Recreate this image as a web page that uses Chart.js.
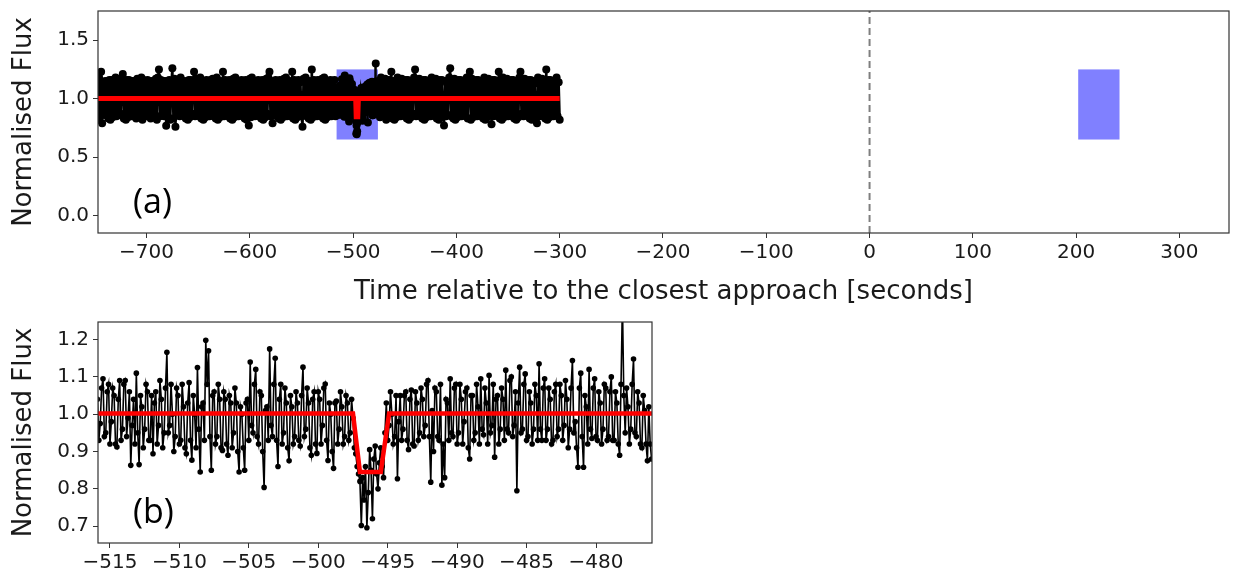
<!DOCTYPE html>
<html>
<head>
<meta charset="utf-8">
<script src="https://cdn.jsdelivr.net/npm/chart.js@4"></script>
<style>
  html, body { margin: 0; padding: 0; background: #fff; }
  body { width: 1233px; height: 581px; position: relative; overflow: hidden; }
  canvas { position: absolute; left: 0; }
  #chartA { top: 0; }
  #chartB { top: 310px; }
  .tag { position: absolute; font-family: "Open Sans", sans-serif; font-size: 34px; line-height: 1; color: #000; }
</style>
</head>
<body>
<canvas id="chartA" width="1233" height="310"></canvas>
<canvas id="chartB" width="660" height="271"></canvas>
<div class="tag" style="left:133px; top:183px">(a)</div>
<div class="tag" style="left:133px; top:493px">(b)</div>

<script>
// ---- light curve, 1 s samples before the event window ----
const earlyStart = -750, earlyStep = 1;
const fluxEarly = [
  1.17,0.84,1.15,0.82,1.18,0.85,1.23,0.79,1.14,0.86,
  1.15,0.87,1.13,0.83,1.16,0.82,1.16,0.84,1.15,0.85,
  1.18,0.85,1.14,0.86,1.17,0.87,1.13,1.21,0.83,1.15,
  0.82,1.16,0.84,1.16,0.85,1.15,0.85,1.15,0.86,1.14,
  0.83,1.17,0.87,1.13,0.84,1.18,0.82,1.16,0.85,1.15,
  0.85,1.16,0.86,1.14,0.83,1.15,0.87,1.13,0.84,1.17,
  0.82,1.18,1.25,0.85,1.16,0.86,1.15,0.85,1.15,0.767,
  1.14,0.84,1.16,0.82,1.13,1.26,0.83,1.17,0.76,1.16,
  0.87,1.15,0.85,1.18,0.86,1.14,0.85,1.15,0.83,1.13,
  0.82,1.16,0.84,1.16,0.87,1.15,1.23,0.85,1.17,0.86,
  1.14,0.85,1.18,0.83,1.13,0.82,1.15,0.84,1.16,0.87,
  1.15,0.85,1.16,0.86,1.17,0.85,1.14,0.83,1.18,0.82,
  1.13,0.84,1.15,0.87,1.23,0.85,1.16,0.86,1.15,0.85,
  1.16,0.83,1.14,0.82,1.17,0.84,1.18,0.87,1.13,0.85,
  1.15,0.86,1.16,0.85,1.15,0.83,1.16,0.82,1.14,0.77,
  1.17,0.84,1.18,0.87,1.13,0.85,1.15,0.86,1.16,0.85,
  1.15,0.83,1.16,0.82,1.14,0.84,1.17,0.87,1.18,1.23,
  0.85,1.13,0.79,1.15,0.86,1.16,0.85,1.15,0.83,1.16,
  0.82,1.14,0.84,1.17,0.87,1.18,0.85,1.13,0.86,1.15,
  0.85,1.23,0.83,1.16,0.82,1.15,0.84,1.16,0.87,1.14,
  0.85,0.76,1.17,0.86,1.18,0.85,1.13,0.83,1.15,0.82,
  1.25,0.84,1.16,0.87,1.15,0.85,1.16,0.86,1.14,0.85,
  1.17,0.83,1.18,0.82,1.13,0.84,1.15,0.87,1.16,0.85,
  1.15,0.86,1.16,0.85
];

// ---- full-cadence samples (0.1 s) around the dip ----
const zoomStart = -515.9, zoomStep = 0.1;
const fluxZoom = [
  1.04,0.93,0.975,1.07,1.095,0.94,0.95,1.06,1.08,0.92,
  0.98,1.07,1.05,0.92,0.912,1.04,1.09,0.93,0.96,1.08,
  1.09,0.94,0.99,1.06,0.863,0.97,1.04,0.92,1.11,0.95,
  0.865,1.05,1.02,0.91,0.96,1.08,1.06,0.93,0.93,1.05,
  0.894,1.03,1.06,0.92,0.97,1.09,1.04,0.91,0.95,1.07,
  1.166,0.95,0.97,1.08,1.00,0.90,0.94,1.07,1.05,0.92,
  0.93,1.08,1.02,0.91,0.894,1.03,1.085,0.93,0.877,1.05,
  1.00,0.91,1.125,0.96,0.845,1.02,1.03,0.93,1.198,1.08,
  1.17,0.94,0.85,1.05,1.06,0.92,0.94,1.08,1.04,0.91,
  0.903,1.06,1.04,0.92,0.89,1.05,1.03,0.91,0.95,1.07,
  1.03,0.90,0.845,1.02,1.00,0.91,0.85,1.03,1.04,0.93,
  1.14,0.97,0.95,1.08,1.12,0.94,0.92,1.06,1.05,0.90,
  0.804,1.01,1.02,0.93,1.175,0.97,0.94,1.08,1.15,0.93,
  0.86,1.04,1.08,0.92,0.95,1.07,1.03,0.91,0.875,1.05,
  1.02,0.92,0.94,1.06,1.03,0.93,0.915,1.05,1.126,0.94,
  0.96,1.07,1.03,0.91,0.89,1.04,1.06,0.92,0.895,1.06,
  1.04,0.92,0.97,1.07,1.081,0.93,0.876,1.03,1.00,0.90,
  0.855,1.03,1.035,0.92,0.96,1.06,1.02,0.92,0.94,1.05,
  1.03,0.93,0.95,1.04,0.99,0.91,0.894,0.86,0.84,0.82,
  0.702,0.83,0.77,0.86,0.696,0.79,0.905,0.85,0.72,0.88,
  0.915,0.84,0.80,0.87,0.91,0.86,0.83,0.95,1.03,0.93,
  0.97,1.06,1.00,0.92,0.94,1.05,0.827,0.98,1.05,0.93,
  0.96,1.05,1.06,0.93,0.905,1.04,1.065,0.92,0.915,1.06,
  1.03,0.93,0.95,1.07,1.04,0.94,0.97,1.08,1.09,0.94,
  0.818,1.01,0.90,1.07,1.06,0.94,0.93,1.08,0.81,0.92,
  0.83,1.04,1.03,0.93,1.095,0.95,0.94,1.07,1.08,0.92,
  0.95,1.08,1.04,0.92,0.98,1.06,1.07,0.91,0.88,1.05,
  1.05,0.93,0.95,1.08,1.02,0.92,1.095,0.96,0.945,1.07,
  1.03,0.92,1.104,0.95,0.97,1.08,0.885,1.04,1.05,0.92,
  0.96,1.07,1.04,0.93,1.118,0.96,0.95,1.09,1.10,0.94,
  0.97,1.06,0.795,1.03,1.126,0.95,0.96,1.08,1.108,0.93,
  0.94,1.06,1.03,0.92,0.96,1.08,1.05,0.93,1.135,0.96,
  0.93,1.07,1.095,0.93,0.96,1.07,1.04,0.92,0.93,1.06,
  1.08,0.94,0.96,1.08,1.05,0.93,0.97,1.09,1.04,0.91,
  0.96,1.07,1.144,0.95,0.98,0.91,0.858,1.07,1.11,0.94,
  0.858,1.05,1.02,0.92,1.12,0.96,0.935,1.07,1.095,0.94,
  0.93,1.06,1.03,0.92,0.96,1.08,1.07,0.93,0.94,1.06,
  1.10,0.93,0.93,1.06,1.03,0.92,0.89,1.08,1.30,1.05,
  0.95,1.07,1.02,0.92,0.96,1.08,1.148,0.95,0.94,1.06,
  1.03,0.92,0.91,1.05,1.01,0.92,0.875,1.02,0.92,0.88
];

// ---- 1 s samples after the event window ----
const lateStart = -475, lateStep = 1;
const fluxLate = [
  1.14,0.84,1.18,0.87,1.15,0.85,1.17,0.82,1.16,0.86,
  1.16,0.85,1.23,0.83,1.15,0.82,1.13,0.84,1.18,0.87,
  1.14,0.85,1.17,0.86,1.15,0.85,1.16,0.83,1.16,0.82,
  1.15,0.84,1.13,0.87,1.18,1.25,0.85,1.14,0.86,1.17,
  0.85,1.15,0.83,1.16,0.82,1.16,0.84,1.15,0.87,1.13,
  0.85,1.18,0.86,1.14,0.85,1.17,0.83,1.15,0.82,1.16,
  0.84,1.16,0.87,0.77,1.15,0.85,1.13,0.86,1.18,1.26,
  0.85,1.14,0.83,1.17,0.82,1.15,0.84,1.16,0.87,1.16,
  0.85,1.15,0.86,1.13,0.85,1.18,0.83,1.14,1.23,0.82,
  1.17,0.84,1.15,0.87,1.16,0.85,1.16,0.86,1.15,0.85,
  1.13,0.83,1.18,0.82,1.14,0.84,1.17,0.87,1.15,0.78,
  1.16,0.85,1.16,0.86,1.15,0.85,1.23,0.83,1.13,0.82,
  1.18,0.84,1.14,0.87,1.17,0.85,1.15,0.86,1.16,0.85,
  1.16,0.83,1.15,0.82,1.13,0.84,1.18,1.23,0.87,1.14,
  0.85,1.17,0.86,1.15,0.85,1.16,0.83,1.16,0.82,1.15,
  0.84,1.13,0.87,0.79,1.18,0.85,1.14,0.86,1.17,0.85,
  1.15,0.83,1.25,0.82,1.16,0.84,1.16,0.87,1.15,0.85,
  1.13,0.86,1.18,0.85,1.14,0.82
];

// ---- transit model (trapezoid) ----
const modelTime = [-750, -497.5, -497.0, -495.5, -494.9, -300];
const modelFlux = [1.002, 1.002, 0.845, 0.845, 1.002, 1.002];

// ---- shaded search windows and closest approach ----
const windowStart = [-516, 202];
const windowEnd = [-476, 242];
const windowLow = 0.65, windowHigh = 1.25;
const approachTime = 0;

// ---- axis ticks ----
const xTicksA = [-700, -600, -500, -400, -300, -200, -100, 0, 100, 200, 300];
const yTicksA = [0.0, 0.5, 1.0, 1.5];
const xTicksB = [-515, -510, -505, -500, -495, -490, -485, -480];
const yTicksB = [0.7, 0.8, 0.9, 1.0, 1.1, 1.2];

function series(start, step, values) {
  return values.map((v, i) => ({ x: +(start + i * step).toFixed(2), y: v }));
}
const zoomPoints = series(zoomStart, zoomStep, fluxZoom);
const allPoints = series(earlyStart, earlyStep, fluxEarly)
  .concat(zoomPoints, series(lateStart, lateStep, fluxLate));
const modelPoints = modelTime.map((t, i) => ({ x: t, y: modelFlux[i] }));

const FONT = '"DejaVu Sans", sans-serif';
const INK = '#1a1a1a';
const minus = v => (v < 0 ? '\u2212' + Math.abs(v) : String(v));

// box around the plot area (matplotlib style spines)
const frame = {
  id: 'frame',
  afterDraw(chart) {
    const { ctx, chartArea: a } = chart;
    ctx.save();
    ctx.strokeStyle = '#333';
    ctx.lineWidth = 1.2;
    ctx.strokeRect(a.left, a.top, a.right - a.left, a.bottom - a.top);
    ctx.restore();
  }
};

// shaded time windows, drawn under the data
const windows = {
  id: 'windows',
  beforeDatasetsDraw(chart) {
    const { ctx, scales: { x, y } } = chart;
    ctx.save();
    ctx.fillStyle = '#8080ff';
    windowStart.forEach((t0, i) => {
      const x0 = x.getPixelForValue(t0), x1 = x.getPixelForValue(windowEnd[i]);
      const y0 = y.getPixelForValue(windowHigh), y1 = y.getPixelForValue(windowLow);
      ctx.fillRect(x0, y0, x1 - x0, y1 - y0);
    });
    ctx.restore();
  }
};

function axes(o) {
  const tickFont = { family: FONT, size: 20 };
  const titleFont = { family: FONT, size: 26 };
  return {
    x: {
      type: 'linear', min: o.xMin, max: o.xMax,
      afterBuildTicks: s => { s.ticks = o.xTicks.map(v => ({ value: v })); },
      afterFit: s => { s.height = o.xHeight; s.paddingLeft = 0; s.paddingRight = 0; },
      ticks: { callback: minus, font: tickFont, color: INK, padding: 3, autoSkip: false, maxRotation: 0 },
      grid: { drawOnChartArea: false, drawTicks: true, tickLength: 5, tickColor: '#333' },
      border: { display: false },
      title: o.xTitle
        ? { display: true, text: o.xTitle, font: titleFont, color: INK, padding: { top: 0, bottom: 2 } }
        : { display: false }
    },
    y: {
      type: 'linear', min: o.yMin, max: o.yMax,
      afterBuildTicks: s => { s.ticks = o.yTicks.map(v => ({ value: v })); },
      afterFit: s => { s.width = 98; s.paddingTop = 0; s.paddingBottom = 0; },
      ticks: { callback: v => v.toFixed(1), font: tickFont, color: INK, padding: 4 },
      grid: { drawOnChartArea: false, drawTicks: true, tickLength: 5, tickColor: '#333' },
      border: { display: false },
      title: { display: true, text: 'Normalised Flux', font: titleFont, color: INK, padding: { top: 9, bottom: 0 } }
    }
  };
}

const common = {
  responsive: false,
  animation: false,
  events: [],
  devicePixelRatio: 1,
  plugins: { legend: { display: false }, tooltip: { enabled: false } }
};

// (a) whole observation
new Chart(document.getElementById('chartA'), {
  type: 'line',
  data: {
    datasets: [
      { data: modelPoints, borderColor: '#ff0000', borderWidth: 5, pointRadius: 0, tension: 0, clip: 0 },
      { data: allPoints, borderColor: '#000', borderWidth: 2.5, pointRadius: 4,
        pointBackgroundColor: '#000', pointBorderWidth: 0, tension: 0, clip: 0 },
      { data: [{ x: approachTime, y: -0.15 }, { x: approachTime, y: 1.75 }],
        borderColor: '#7f7f7f', borderWidth: 2, borderDash: [7, 4], pointRadius: 0, clip: 0 }
    ]
  },
  options: Object.assign({}, common, {
    layout: { padding: { top: 11, right: 1, left: 0, bottom: 0 } },
    scales: axes({
      xMin: -747, xMax: 348, yMin: -0.15, yMax: 1.75,
      xTicks: xTicksA, yTicks: yTicksA, xHeight: 77,
      xTitle: 'Time relative to the closest approach [seconds]'
    })
  }),
  plugins: [windows, frame]
});

// (b) zoom on the dip
new Chart(document.getElementById('chartB'), {
  type: 'line',
  data: {
    datasets: [
      { data: modelPoints, borderColor: '#ff0000', borderWidth: 4.5, pointRadius: 0, tension: 0, clip: 0 },
      { data: zoomPoints, borderColor: '#000', borderWidth: 1.6, pointRadius: 2.8,
        pointBackgroundColor: '#000', pointBorderWidth: 0, tension: 0, clip: 0 }
    ]
  },
  options: Object.assign({}, common, {
    layout: { padding: { top: 12, right: 8, left: 0, bottom: 0 } },
    scales: axes({
      xMin: -515.86, xMax: -475.97, yMin: 0.655, yMax: 1.247,
      xTicks: xTicksB, yTicks: yTicksB, xHeight: 38
    })
  }),
  plugins: [frame]
});
</script>
</body>
</html>
